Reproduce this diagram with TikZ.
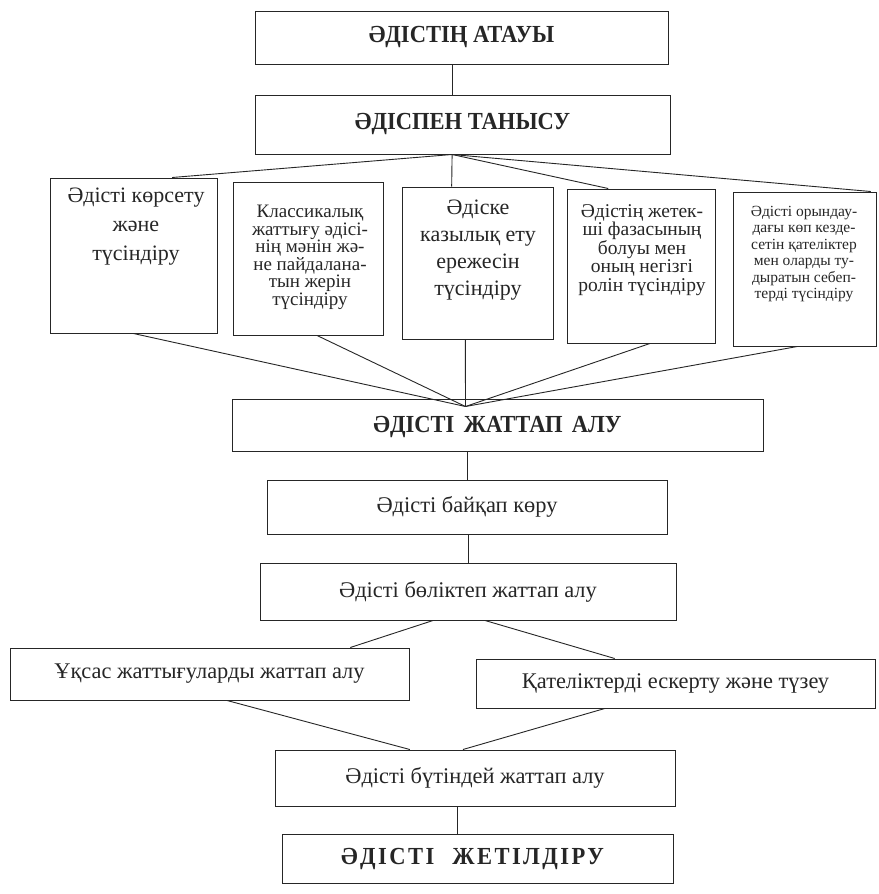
\documentclass[tikz,border=0pt]{standalone}
\usepackage{fontspec}
\setmainfont{Liberation Serif}
\newfontfamily\narrowserif[FakeStretch=0.92]{Liberation Serif}
\newfontfamily\spacedserif[FakeStretch=0.92,LetterSpace=10]{Liberation Serif}
\usetikzlibrary{calc}
\definecolor{ink}{HTML}{262626}
\begin{document}
\begin{tikzpicture}[x=1pt,y=-1pt,
  box/.style={draw=ink, line width=1pt, rectangle, inner sep=0pt},
  link/.style={draw=ink, line width=0.9pt},
  txt/.style={inner sep=0pt, text=ink, align=center},
  head/.style={txt, font=\narrowserif\bfseries\fontsize{24.5}{28}\selectfont},
  line/.style={txt, font=\fontsize{22.4}{26}\selectfont}]
\useasboundingbox (0,0) rectangle (878,894);
\fill[white] (0,0) rectangle (878,894);

% boxes
\node[box, minimum width=413, minimum height=53] (N1) at (461.5,37.5) {};
\node[box, minimum width=415, minimum height=59] (N2) at (462.5,124.5) {};
\node[box, minimum width=167, minimum height=155] (A) at (133.5,255.5) {};
\node[box, minimum width=150, minimum height=153] (B) at (308,258.5) {};
\node[box, minimum width=151, minimum height=152] (C) at (477.5,263) {};
\node[box, minimum width=148, minimum height=154] (D) at (641,266) {};
\node[box, minimum width=143, minimum height=154] (E) at (804.5,269) {};
\node[box, minimum width=531, minimum height=52] (F) at (497.5,425) {};
\node[box, minimum width=400, minimum height=54] (G) at (467,507) {};
\node[box, minimum width=416, minimum height=57] (H) at (468,591.5) {};
\node[box, minimum width=399, minimum height=52] (I) at (209.5,674) {};
\node[box, minimum width=399, minimum height=49] (J) at (675.5,683.5) {};
\node[box, minimum width=400, minimum height=56] (K) at (475,778) {};
\node[box, minimum width=391, minimum height=49] (L) at (477.5,858.5) {};

% texts
\node[head] (tN1) at (N1) {ӘДІСТІҢ АТАУЫ};
\node[head] (tN2) at (N2) {ӘДІСПЕН ТАНЫСУ};
\node[txt, font=\fontsize{22}{29}\selectfont, anchor=north] (tA) at (136,188) {Әдісті көрсету\\және\\түсіндіру};
\node[txt, font=\fontsize{19}{17.5}\selectfont, anchor=north] (tB) at (310,205) {Классикалық\\жаттығу әдісі-\\нің мәнін жә-\\не пайдалана-\\тын жерін\\түсіндіру};
\node[txt, font=\fontsize{22}{27}\selectfont, anchor=north] (tC) at (478,200) {Әдіске\\казылық ету\\ережесін\\түсіндіру};
\node[txt, font=\fontsize{19.5}{18.5}\selectfont, anchor=north] (tD) at (642,204) {Әдістің жетек-\\ші фазасының\\болуы мен\\оның негізгі\\ролін түсіндіру};
\node[txt, font=\fontsize{15.5}{16.4}\selectfont, anchor=north] (tE) at (804,206) {Әдісті орындау-\\дағы көп кезде-\\сетін қателіктер\\мен оларды ту-\\дыратын себеп-\\терді түсіндіру};
\node[head] (tF) at ($(F)+(0,2)$) {ӘДІСТІ\hspace{0.15em} ЖАТТАП\hspace{0.15em} АЛУ};
\node[line] (tG) at (G) {Әдісті байқап көру};
\node[line] (tH) at (H) {Әдісті бөліктеп жаттап алу};
\node[line] (tI) at (I) {Ұқсас жаттығуларды жаттап алу};
\node[line] (tJ) at (J) {Қателіктерді ескерту және түзеу};
\node[line] (tK) at (K) {Әдісті бүтіндей жаттап алу};
\node[txt, font=\spacedserif\bfseries\fontsize{24.5}{28}\selectfont] (tL) at ($(L)+(-5,0)$) {ӘДІСТІ\hspace{0.4em} ЖЕТІЛДІРУ};

% connection points
\coordinate (n1b) at ($(N1.south west)!0.478!(N1.south east)$);
\coordinate (fan) at ($(N2.south west)!0.475!(N2.south east)$);
\coordinate (conv) at ($(F.north west)+(234,8)$);

% connectors
\draw[link] (n1b) -- (n1b |- N2.north);
\draw[link] (fan) -- ($(A.north west)!0.73!(A.north east)$);
\draw[link] (fan) -- ($(C.north west)!0.33!(C.north east)$);
\draw[link] (fan) -- ($(D.north west)!0.28!(D.north east)$);
\draw[link] (fan) -- ($(E.north west)!0.96!(E.north east)$);

\draw[link] (A.south) -- (conv);
\draw[link] ($(B.south west)!0.56!(B.south east)$) -- (conv);
\draw[link] ($(C.south west)!0.42!(C.south east)$) -- (conv);
\draw[link] ($(D.south west)!0.56!(D.south east)$) -- (conv);
\draw[link] ($(E.south west)!0.45!(E.south east)$) -- (conv);

\draw[link] (G.north |- F.south) -- (G.north);
\draw[link] (H.north |- G.south) -- (H.north);
\draw[link] ($(H.south west)!0.416!(H.south east)$) -- ($(I.north west)!0.852!(I.north east)$);
\draw[link] ($(H.south west)!0.541!(H.south east)$) -- ($(J.north west)!0.348!(J.north east)$);
\draw[link] ($(I.south west)!0.544!(I.south east)$) -- ($(K.north west)!0.3375!(K.north east)$);
\draw[link] ($(J.south west)!0.323!(J.south east)$) -- ($(K.north west)!0.47!(K.north east)$);
\coordinate (kb) at ($(K.south west)!0.455!(K.south east)$);
\draw[link] (kb) -- (kb |- L.north);
\end{tikzpicture}
\end{document}
